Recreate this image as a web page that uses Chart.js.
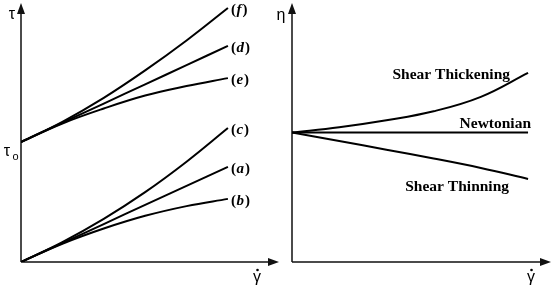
<!DOCTYPE html>
<html><head><meta charset="utf-8">
<script src="https://cdn.jsdelivr.net/npm/chart.js@4/dist/chart.umd.min.js"></script>
<style>
html,body{margin:0;padding:0;background:#fff;}
#wrap{position:relative;width:553px;height:288px;overflow:hidden;background:#fff;}
#left{position:absolute;left:0;top:0;}
#right{position:absolute;left:265px;top:0;}
</style></head><body>
<div id="wrap">
<canvas id="left" width="285" height="288" style="width:285px;height:288px"></canvas>
<canvas id="right" width="288" height="288" style="width:288px;height:288px"></canvas>
</div>
<script>
// ---- data (arbitrary units) ----
const shearRate = [0, 2, 4, 6, 8, 10];
// left panel: shear stress curves
const stressA = [0, 0.76, 1.52, 2.29, 3.05, 3.81];
const stressB = [0, 0.73, 1.34, 1.85, 2.24, 2.53];
const stressC = [0, 0.80, 1.73, 2.80, 4.02, 5.37];
const yieldStress = 4.81;
const stressD = [4.81, 5.58, 6.35, 7.12, 7.89, 8.66];
const stressE = [4.81, 5.55, 6.15, 6.67, 7.05, 7.37];
const stressF = [4.81, 5.62, 6.58, 7.68, 8.88, 10.18];
const leftLabels = ['a', 'b', 'c', 'd', 'e', 'f'];
// right panel: viscosity curves
const viscThickening = [5.19, 5.40, 5.68, 6.04, 6.62, 7.58];
const viscNewtonian = [5.19, 5.19, 5.19, 5.19, 5.19, 5.19];
const viscThinning = [5.19, 4.85, 4.50, 4.15, 3.77, 3.33];
const rightLabels = ['Shear Thickening', 'Newtonian', 'Shear Thinning'];

function pts(ys) { return shearRate.map((x, i) => ({x: x, y: ys[i]})); }
function ds(ys, lbl) {
  return {label: lbl, data: pts(ys), showLine: true, borderColor: '#000', borderWidth: 2,
          pointRadius: 0, tension: 0.4, fill: false};
}

function arrowAxes(chart) {
  const ctx = chart.ctx, a = chart.chartArea;
  ctx.save();
  ctx.strokeStyle = '#111'; ctx.fillStyle = '#111'; ctx.lineWidth = 1.5;
  ctx.beginPath();
  ctx.moveTo(a.left, a.bottom); ctx.lineTo(a.left, a.top + 6);
  ctx.moveTo(a.left, a.bottom); ctx.lineTo(a.right - 6, a.bottom);
  ctx.stroke();
  ctx.beginPath();
  ctx.moveTo(a.left, a.top - 2); ctx.lineTo(a.left - 4, a.top + 9); ctx.lineTo(a.left + 4, a.top + 9); ctx.closePath();
  ctx.fill();
  ctx.beginPath();
  ctx.moveTo(a.right + 1, a.bottom); ctx.lineTo(a.right - 10, a.bottom - 4); ctx.lineTo(a.right - 10, a.bottom + 4); ctx.closePath();
  ctx.fill();
  ctx.restore();
}

function gammaDot(ctx, cx, baseline) {
  ctx.save();
  ctx.fillStyle = '#000';
  ctx.font = '16px "Liberation Sans", Arial, sans-serif';
  ctx.textAlign = 'center'; ctx.textBaseline = 'alphabetic';
  ctx.fillText('γ', cx, baseline);
  ctx.beginPath(); ctx.arc(cx + 0.5, baseline - 12, 1.3, 0, Math.PI * 2); ctx.fill();
  ctx.restore();
}

const leftPlugin = {
  id: 'leftDeco',
  beforeDatasetsDraw(chart) { arrowAxes(chart); },
  afterDraw(chart) {
    const ctx = chart.ctx, xs = chart.scales.x, ys = chart.scales.y, a = chart.chartArea;
    ctx.save();
    ctx.fillStyle = '#000';
    chart.data.datasets.forEach(d => {
      const last = d.data[d.data.length - 1];
      let px = xs.getPixelForValue(last.x) + 3;
      const py = ys.getPixelForValue(last.y) + 2;
      ctx.textBaseline = 'middle'; ctx.textAlign = 'left';
      ctx.font = 'bold 15px "Liberation Serif", "Times New Roman", serif';
      ctx.fillText('(', px, py); px += ctx.measureText('(').width;
      ctx.font = 'italic bold 15px "Liberation Serif", "Times New Roman", serif';
      ctx.fillText(d.label, px + 0.5, py); px += ctx.measureText(d.label).width + 1.5;
      ctx.font = 'bold 15px "Liberation Serif", "Times New Roman", serif';
      ctx.fillText(')', px, py);
    });
    ctx.font = '16px "Liberation Sans", Arial, sans-serif';
    ctx.textAlign = 'center'; ctx.textBaseline = 'alphabetic';
    ctx.fillText('τ', a.left - 9, 19);
    const ty = ys.getPixelForValue(yieldStress);
    ctx.fillText('τ', 7, ty + 14);
    ctx.font = '11px "Liberation Sans", Arial, sans-serif';
    ctx.fillText('o', 15.5, ty + 18);
    ctx.restore();
    gammaDot(ctx, 257, 282);
  }
};

const rightPlugin = {
  id: 'rightDeco',
  beforeDatasetsDraw(chart) { arrowAxes(chart); },
  afterDraw(chart) {
    const ctx = chart.ctx, xs = chart.scales.x, ys = chart.scales.y, a = chart.chartArea;
    ctx.save();
    ctx.fillStyle = '#000';
    ctx.font = 'bold 15.5px "Liberation Serif", "Times New Roman", serif';
    ctx.textAlign = 'right'; ctx.textBaseline = 'middle';
    const xe = xs.getPixelForValue(shearRate[shearRate.length - 1]);
    const n = shearRate.length - 1;
    ctx.fillText(rightLabels[0], xe - 18, ys.getPixelForValue(viscThickening[n]) + 2);
    ctx.fillText(rightLabels[1], xe + 3, ys.getPixelForValue(viscNewtonian[n]) - 9);
    ctx.fillText(rightLabels[2], xe - 19, ys.getPixelForValue(viscThinning[n]) + 8);
    ctx.font = '16px "Liberation Sans", Arial, sans-serif';
    ctx.textAlign = 'center'; ctx.textBaseline = 'alphabetic';
    ctx.fillText('η', a.left - 11, 20);
    ctx.restore();
    gammaDot(ctx, 531 - 265, 282);
  }
};

function baseOptions(pad, xmax) {
  return {
    responsive: false, animation: false, devicePixelRatio: 1,
    layout: {padding: pad},
    plugins: {legend: {display: false}, tooltip: {enabled: false}},
    scales: {
      x: {type: 'linear', min: 0, max: xmax, display: false},
      y: {type: 'linear', min: 0, max: 10.3, display: false}
    }
  };
}

new Chart(document.getElementById('left'), {
  type: 'scatter',
  data: {datasets: [
    ds(stressF, leftLabels[5]), ds(stressD, leftLabels[3]), ds(stressE, leftLabels[4]),
    ds(stressC, leftLabels[2]), ds(stressA, leftLabels[0]), ds(stressB, leftLabels[1])
  ]},
  options: baseOptions({left: 21, right: 7, top: 5, bottom: 26}, 12.42),
  plugins: [leftPlugin]
});

new Chart(document.getElementById('right'), {
  type: 'scatter',
  data: {datasets: [
    ds(viscThickening, rightLabels[0]), ds(viscNewtonian, rightLabels[1]), ds(viscThinning, rightLabels[2])
  ]},
  options: baseOptions({left: 27, right: 3, top: 5, bottom: 26}, 10.93),
  plugins: [rightPlugin]
});
</script>
</body></html>
